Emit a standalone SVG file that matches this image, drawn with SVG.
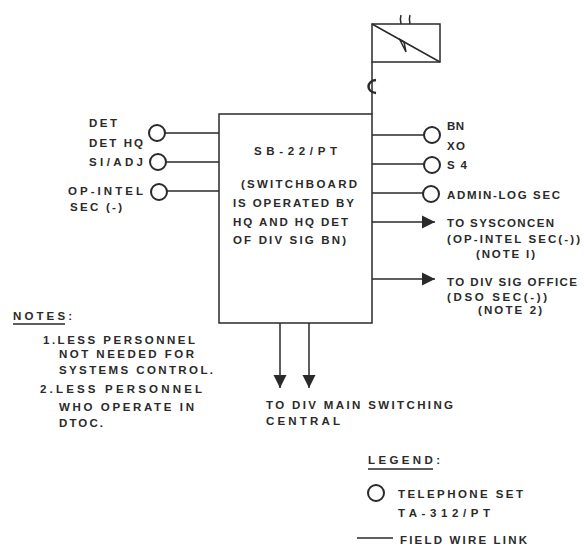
<svg xmlns="http://www.w3.org/2000/svg" width="584" height="546" viewBox="0 0 584 546">
<style>
text{font-family:"Liberation Sans",Arial,sans-serif;font-size:11.5px;font-weight:bold;fill:#2a2a2a}
.l{fill:none;stroke:#2a2a2a;stroke-width:1.5}
.c{fill:#fff;stroke:#2a2a2a;stroke-width:2}
</style>
<defs><marker id="a" markerWidth="14" markerHeight="14" refX="13" refY="7" orient="auto" markerUnits="userSpaceOnUse"><path d="M0 0.5L13 7L0 13.5z" fill="#2a2a2a"/></marker></defs>
<rect width="584" height="546" fill="#fff"/>
<g id="connectors">
<path class="l" d="M165 133H219M166 162H219M167 191H219M372 135H424M372 164H424M372 193H423"/>
<path class="l" d="M372 222H435" marker-end="url(#a)"/>
<path class="l" d="M372 279H435" marker-end="url(#a)"/>
<path class="l" d="M280 323V388" marker-end="url(#a)"/>
<path class="l" d="M309 323V388" marker-end="url(#a)"/>
<path class="l" d="M372 62V114"/>
</g>
<g id="switchboard"><rect class="l" x="219" y="114" width="153" height="209"/>
<text x="254" y="155" textLength="83">SB-22/PT</text>
<text x="241" y="188" textLength="116">(SWITCHBOARD</text>
<text x="233" y="207" textLength="121">IS OPERATED BY</text>
<text x="233" y="226" textLength="115">HQ AND HQ DET</text>
<text x="233" y="244" textLength="113">OF DIV SIG BN)</text></g>
<g id="radio"><rect class="l" x="372" y="24" width="68" height="38"/>
<path class="l" d="M372 24L440 62"/>
<path class="l" d="M400 40L406 52L404 42L399 39" stroke-width="2"/>
<path class="l" d="M401 24C400 20 400 18 401 15M410 24C409 20 409 18 410 15"/>
<path d="M376 80C366 81 366 92 376 93" fill="none" stroke="#2a2a2a" stroke-width="2.5"/></g>
<g id="det-hq"><circle class="c" cx="157" cy="133" r="8"/><text x="89" y="127" textLength="28">DET</text><text x="89" y="147" textLength="54">DET HQ</text></g>
<g id="si-adj"><circle class="c" cx="158" cy="162" r="8"/><text x="89" y="166" textLength="54">SI/ADJ</text></g>
<g id="op-intel"><circle class="c" cx="159" cy="192" r="8"/><text x="68" y="195" textLength="75">OP-INTEL</text><text x="70" y="211" textLength="52">SEC (-)</text></g>
<g id="bn-xo"><circle class="c" cx="432" cy="135" r="8"/><text x="447" y="130" textLength="17">BN</text><text x="447" y="150" textLength="18">XO</text></g>
<g id="s4"><circle class="c" cx="432" cy="165" r="8"/><text x="447" y="169" textLength="20">S 4</text></g>
<g id="admin-log"><circle class="c" cx="431" cy="194" r="8"/><text x="447" y="199" textLength="113">ADMIN-LOG SEC</text></g>
<g id="sysconcen"><text x="447" y="227" textLength="107">TO SYSCONCEN</text><text x="447" y="243" textLength="133">(OP-INTEL SEC(-))</text><text x="476" y="258" textLength="59">(NOTE I)</text></g>
<g id="div-sig"><text x="447" y="286" textLength="130">TO DIV SIG OFFICE</text><text x="447" y="301" textLength="100">(DSO SEC(-))</text><text x="478" y="314" textLength="64">(NOTE 2)</text></g>
<g id="main-switching"><text x="266" y="409" textLength="187">TO DIV MAIN SWITCHING</text><text x="266" y="425" textLength="74">CENTRAL</text></g>
<g id="notes"><text x="13" y="320" textLength="59">NOTES:</text><path class="l" d="M13 324H65"/>
<text x="43" y="344" textLength="152">1.LESS PERSONNEL</text><text x="59" y="358" textLength="135">NOT NEEDED FOR</text><text x="59" y="374" textLength="154">SYSTEMS CONTROL.</text>
<text x="40" y="393" textLength="162">2.LESS PERSONNEL</text><text x="59" y="411" textLength="135">WHO OPERATE IN</text><text x="59" y="427" textLength="44">DTOC.</text></g>
<g id="legend"><text x="368" y="464" textLength="72">LEGEND:</text><path class="l" d="M368 469H433"/>
<circle class="c" cx="376" cy="493" r="8"/><text x="398" y="498" textLength="125">TELEPHONE SET</text><text x="398" y="517" textLength="92">TA-312/PT</text>
<path class="l" d="M357 538H393"/><text x="400" y="544" textLength="127">FIELD WIRE LINK</text></g>
</svg>
